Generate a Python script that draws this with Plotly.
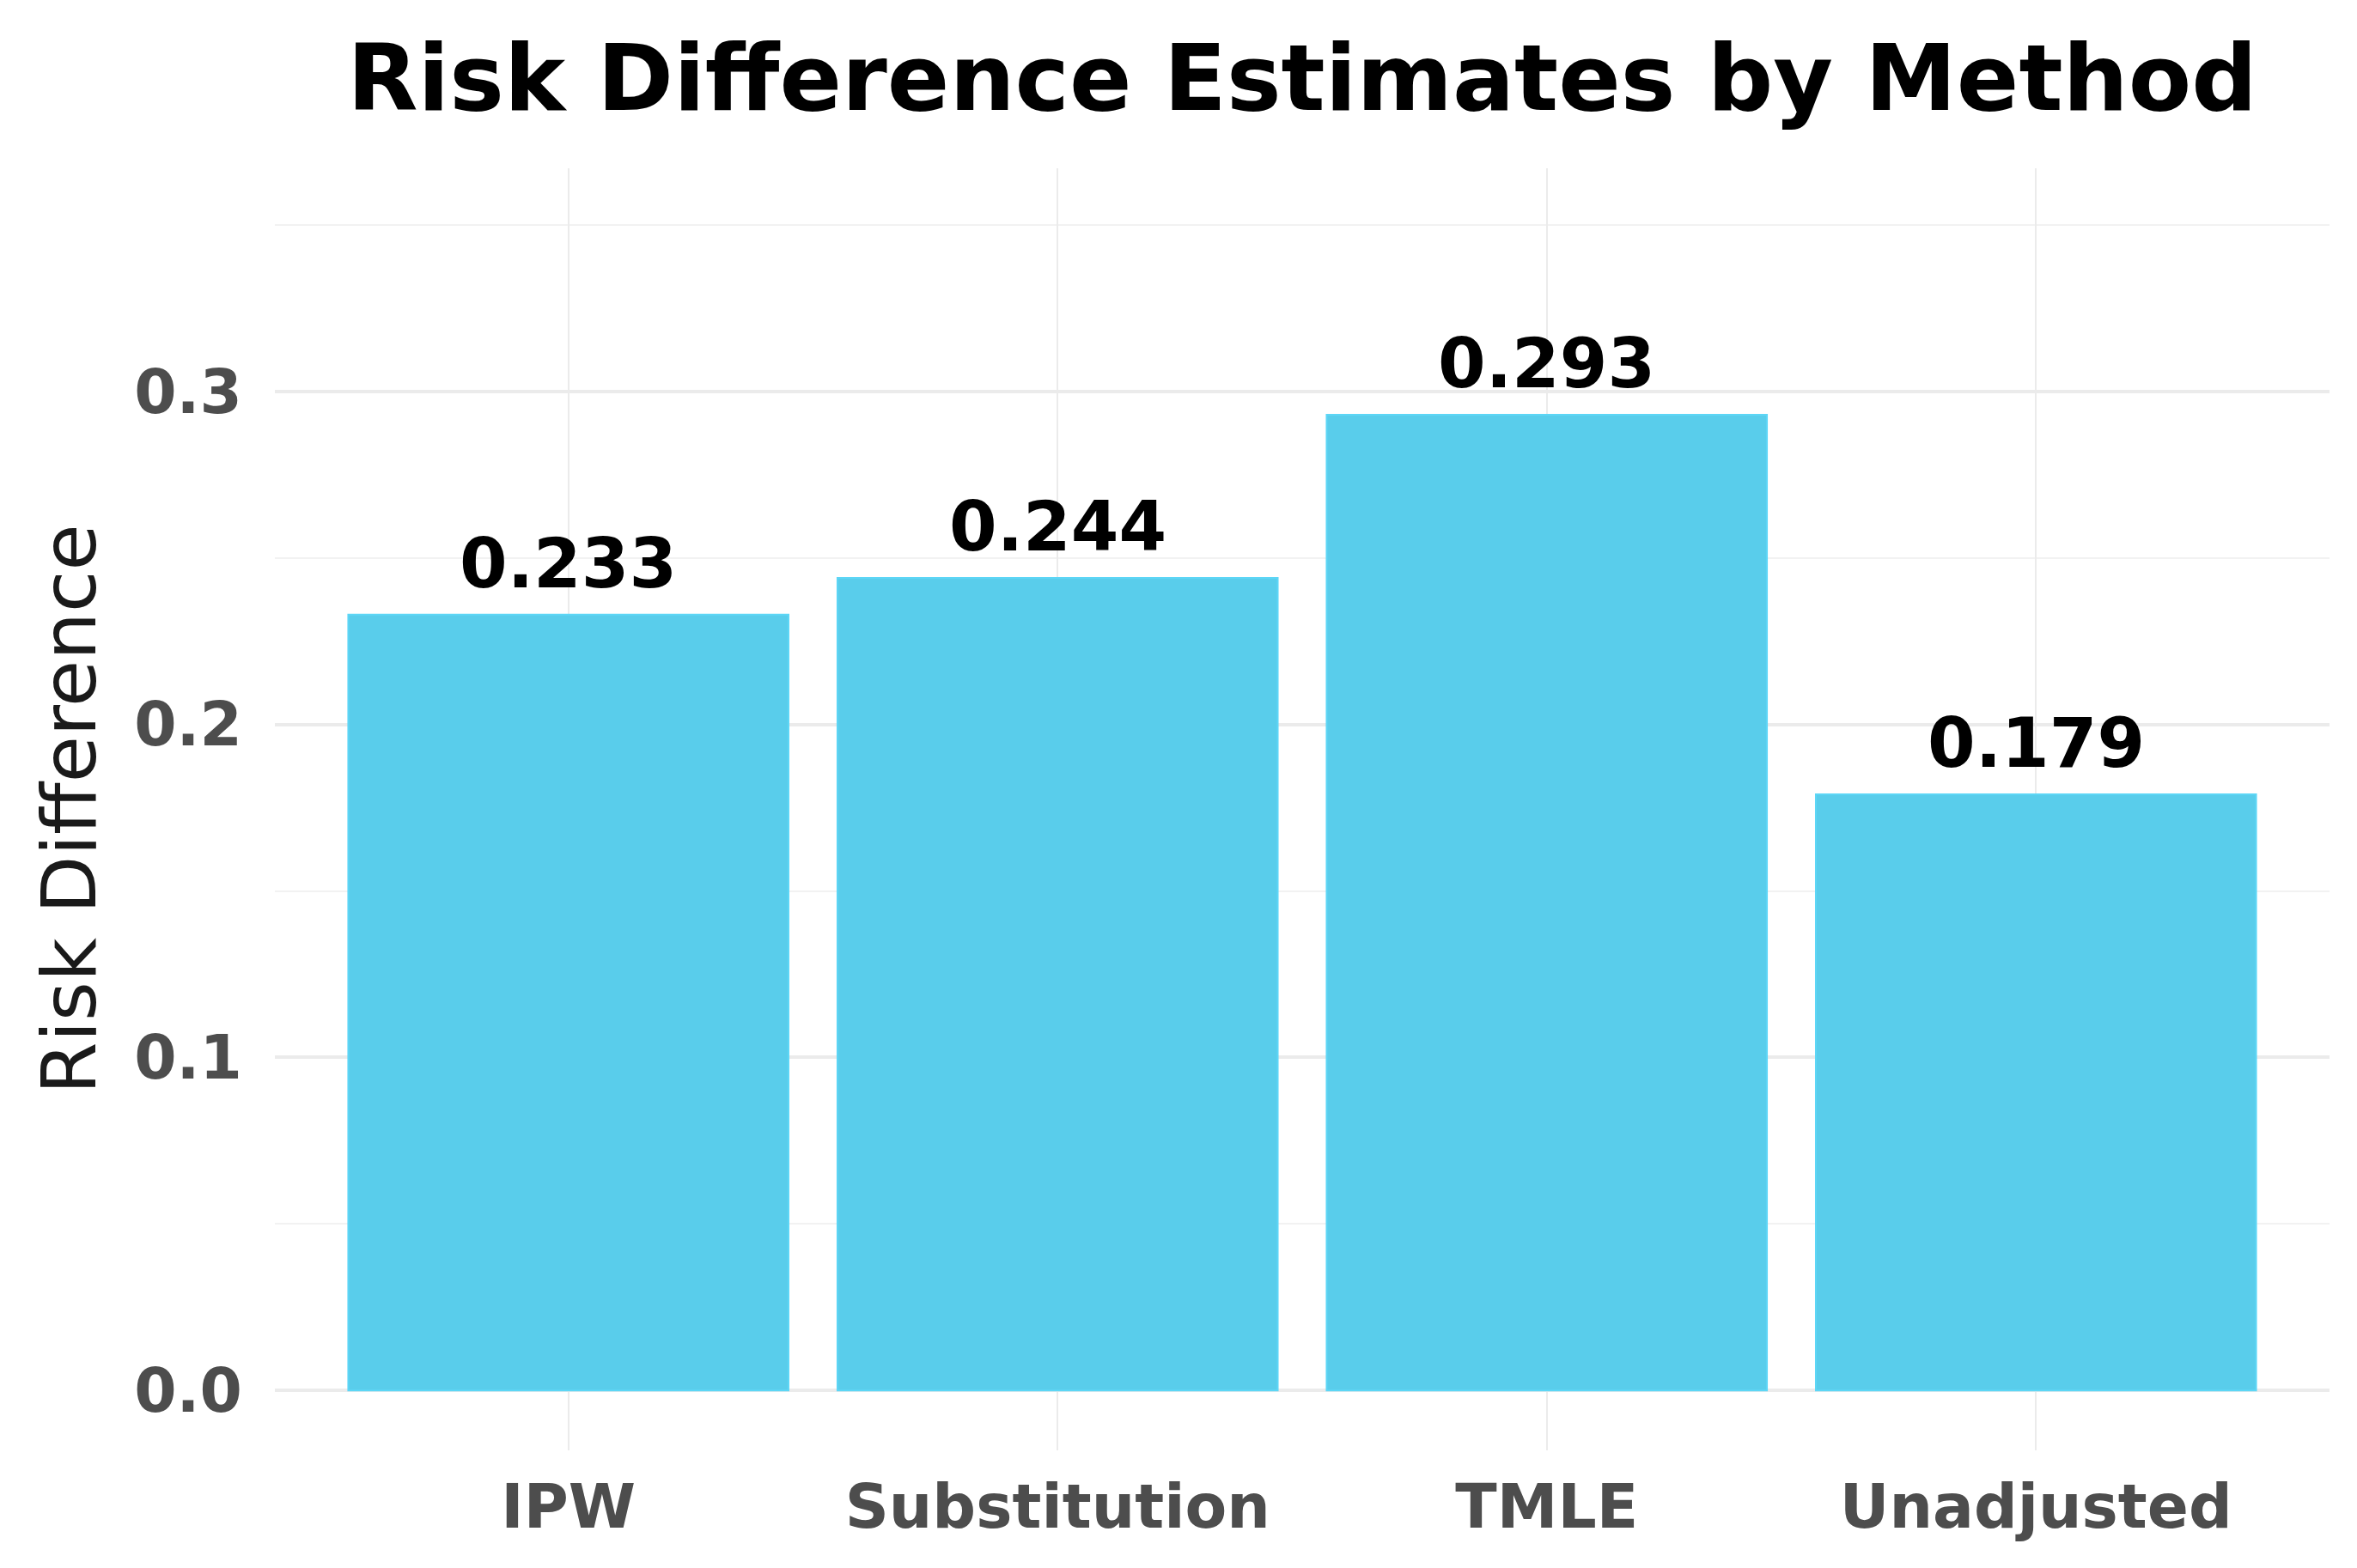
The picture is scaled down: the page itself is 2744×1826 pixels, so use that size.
import plotly.graph_objects as go

methods = ["IPW", "Substitution", "TMLE", "Unadjusted"]
risk_diff = [0.233, 0.244, 0.293, 0.179]
labels = ["0.233", "0.244", "0.293", "0.179"]
y_ticks = [0.0, 0.1, 0.2, 0.3]
y_tick_text = ["0.0", "0.1", "0.2", "0.3"]

W, H = 2728, 1810
ml, mr, mt, mb = 312, 24, 188, 129

fig = go.Figure()
fig.add_trace(go.Bar(
    x=list(range(len(methods))),
    y=risk_diff,
    width=0.9,
    marker=dict(color="#59CDEB", line=dict(color="#5DD6F6", width=2)),
    showlegend=False,
    hoverinfo="skip",
))

for i, (v, t) in enumerate(zip(risk_diff, labels)):
    fig.add_annotation(
        x=i, y=v, text=t, showarrow=False, yanchor="bottom", yshift=11,
        font=dict(family="DejaVu Sans", size=80, color="#000000", weight="bold"),
    )

fig.update_layout(
    width=W, height=H,
    margin=dict(l=ml, r=mr, t=mt, b=mb, pad=0),
    paper_bgcolor="white", plot_bgcolor="white",
    bargap=0.1,
    title=dict(
        text="<b>Risk Difference Estimates by Method</b>",
        x=0.5, xref="paper", xanchor="center",
        y=1 - 83 / H, yref="container", yanchor="middle",
        font=dict(family="DejaVu Sans", size=107, color="#000000"),
    ),
    xaxis=dict(
        range=[-0.6, 3.6],
        tickmode="array", tickvals=list(range(len(methods))), ticktext=methods,
        tickfont=dict(family="DejaVu Sans", size=71, color="#4D4D4D", weight="bold"),
        showgrid=True, gridcolor="#EBEBEB", gridwidth=2,
        zeroline=False, showline=False, ticks="", ticklabelstandoff=18,
    ),
    yaxis=dict(
        range=[-0.018, 0.367],
        tickmode="array", tickvals=y_ticks, ticktext=y_tick_text,
        tickfont=dict(family="DejaVu Sans", size=71, color="#4D4D4D", weight="bold"),
        showgrid=True, gridcolor="#EBEBEB", gridwidth=3.5,
        minor=dict(dtick=0.05, tick0=0.05, showgrid=True, gridcolor="#F2F2F2", gridwidth=2),
        zeroline=False, showline=False, ticks="", ticklabelstandoff=37,
        title=dict(text="Risk Difference", standoff=15,
                   font=dict(family="DejaVu Sans", size=88, color="#1A1A1A")),
    ),
)

fig.write_html("out.html")
